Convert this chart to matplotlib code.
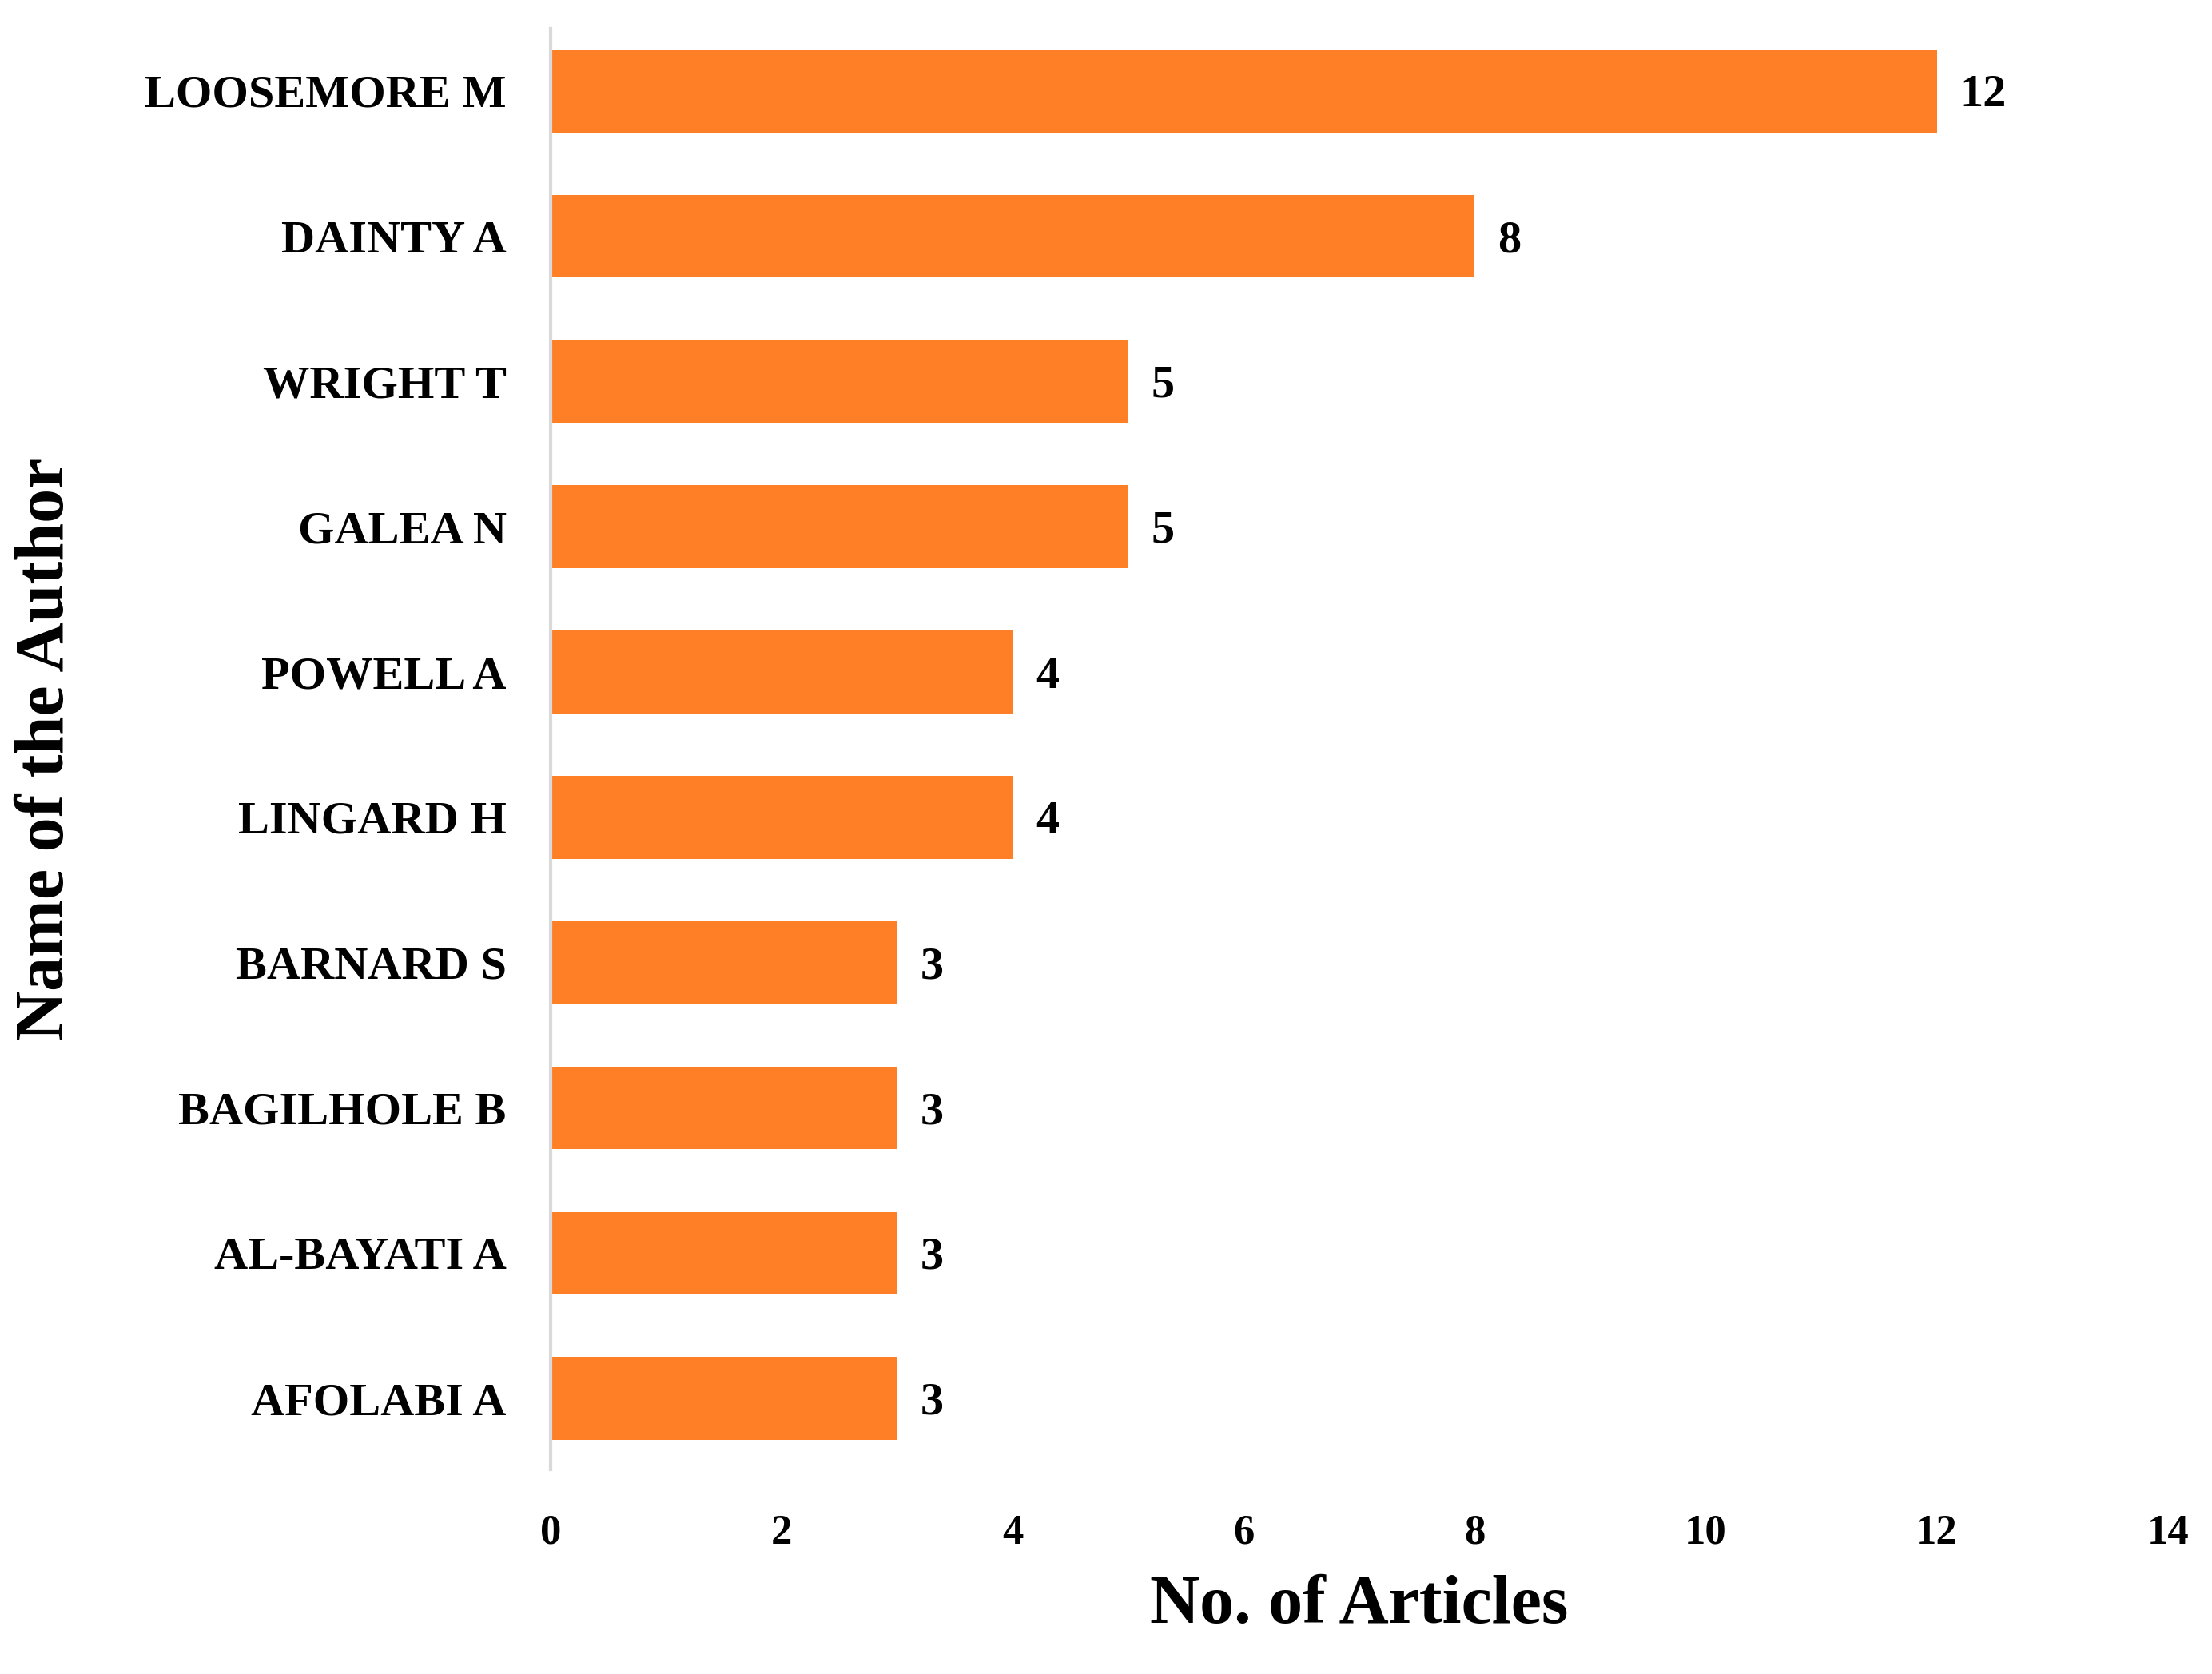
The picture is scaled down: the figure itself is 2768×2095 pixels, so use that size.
import matplotlib.pyplot as plt

authors = ["LOOSEMORE M", "DAINTY A", "WRIGHT T", "GALEA N", "POWELL A",
           "LINGARD H", "BARNARD S", "BAGILHOLE B", "AL-BAYATI A", "AFOLABI A"]
articles = [12, 8, 5, 5, 4, 4, 3, 3, 3, 3]
xticks = [0, 2, 4, 6, 8, 10, 12, 14]

plt.rcParams["font.family"] = ["Liberation Serif", "DejaVu Serif"]
plt.rcParams["font.weight"] = "bold"

fig = plt.figure(figsize=(13.84, 10.475), dpi=200)
ax = fig.add_axes([0.249, 0.122, 0.731, 0.861])

ypos = list(range(len(authors)))[::-1]
ax.barh(ypos, articles, height=0.57, color="#FF7F27")
for y, v in zip(ypos, articles):
    ax.text(v + 0.2, y - 0.03, str(v), va="center", ha="left", fontsize=21, fontweight="bold")

ax.set_yticks(ypos)
ax.set_yticklabels(authors, fontsize=21, fontweight="bold")
ax.set_xticks(xticks)
ax.set_xticklabels([str(t) for t in xticks], fontsize=19, fontweight="bold")
ax.set_xlim(0, 14)
ax.set_ylim(-0.49, 9.43)
ax.tick_params(axis="y", length=0, pad=20)
ax.tick_params(axis="x", length=0, pad=20)
for s in ["top", "right", "bottom"]:
    ax.spines[s].set_visible(False)
ax.spines["left"].set_color("#d9d9d9")
ax.spines["left"].set_linewidth(1.5)

ax.set_xlabel("No. of Articles", fontsize=31, fontweight="bold", labelpad=10)
ax.set_ylabel("Name of the Author", fontsize=31, fontweight="bold", labelpad=30)

fig.savefig("out.png", dpi=200)
